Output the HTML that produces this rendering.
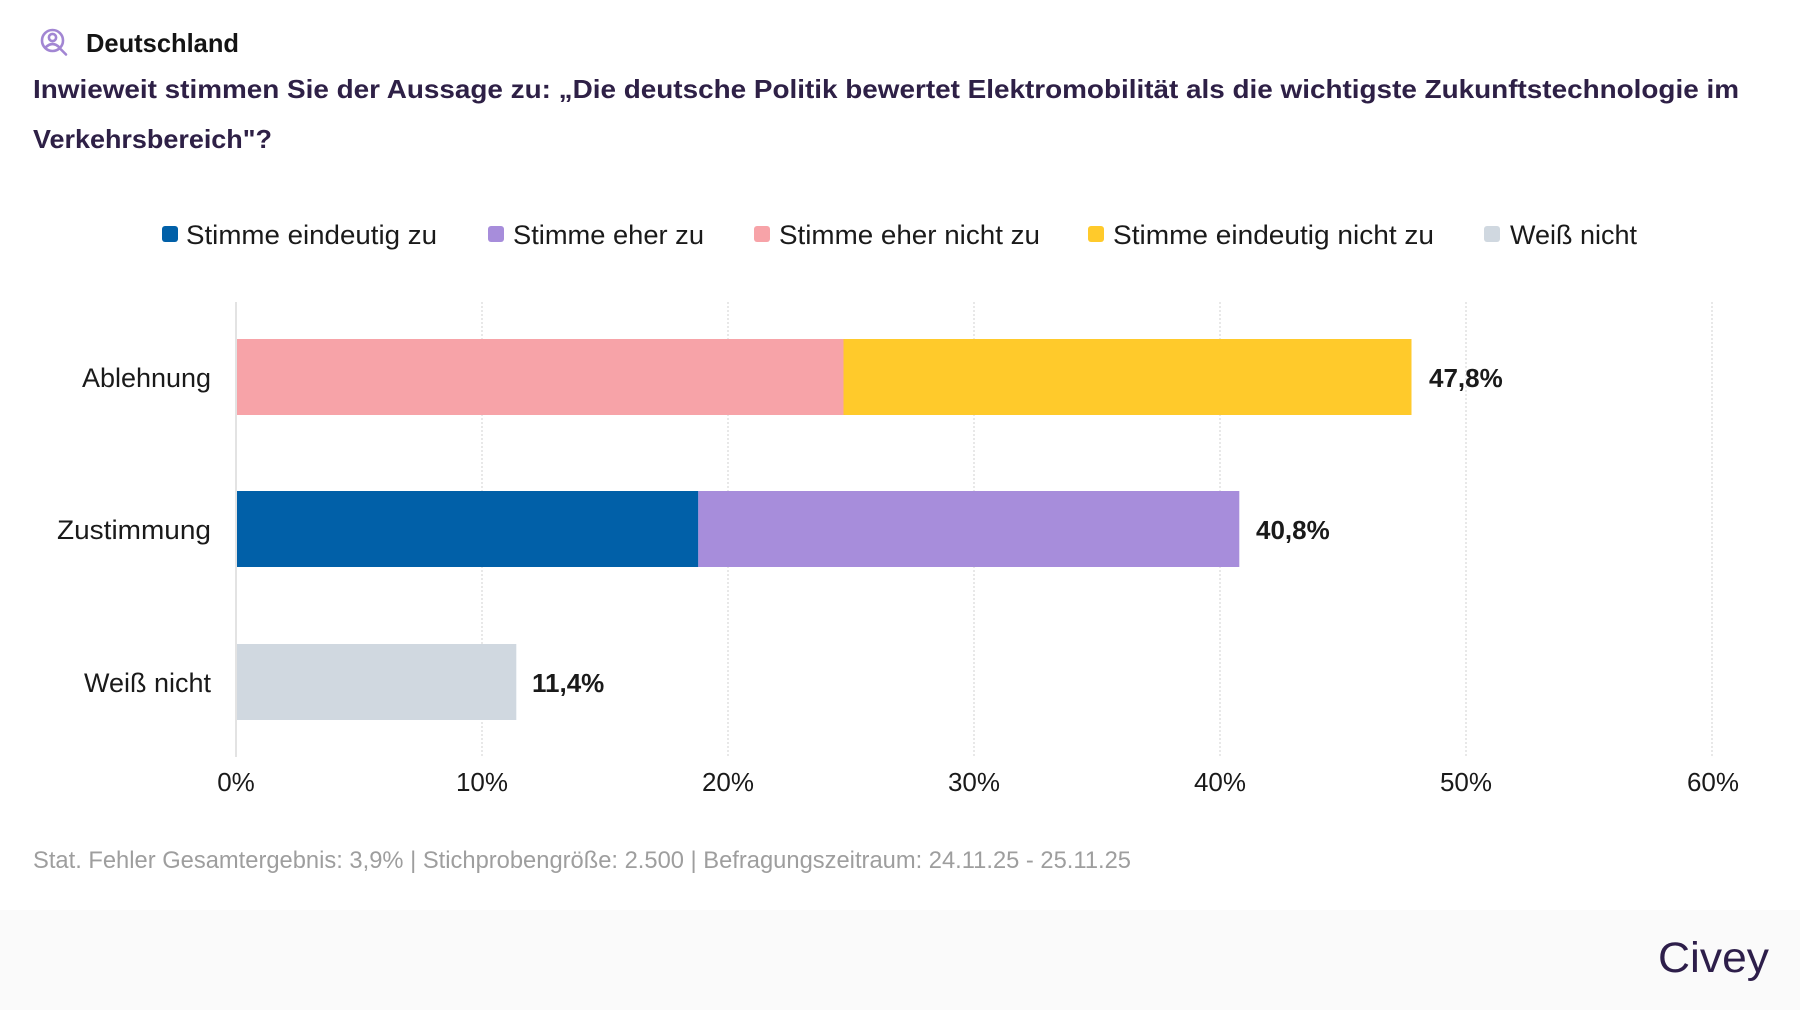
<!DOCTYPE html>
<html>
<head>
<meta charset="utf-8">
<style>
html,body{margin:0;padding:0;background:#fff;}
svg{display:block;}
text{font-family:"Liberation Sans",Arial,sans-serif;}
</style>
</head>
<body>
<svg width="1800" height="1010" viewBox="0 0 1800 1010" xmlns="http://www.w3.org/2000/svg">
  <rect x="0" y="0" width="1800" height="1010" fill="#ffffff"/>
  <!-- footer band -->
  <rect x="0" y="910" width="1800" height="100" fill="#fafafa"/>

  <!-- header icon -->
  <g fill="none" stroke="#a286d3" stroke-width="2.6" stroke-linecap="round">
    <circle cx="52.5" cy="40.5" r="10.5"/>
    <circle cx="52.5" cy="37.5" r="3.6"/>
    <path d="M45.5 47.5 Q52.5 40.5 59.5 47.5"/>
    <line x1="60" y1="48.5" x2="66" y2="54.5"/>
  </g>
  <text x="86" y="52" font-size="26" font-weight="bold" fill="#141414" textLength="153" lengthAdjust="spacingAndGlyphs">Deutschland</text>

  <!-- title -->
  <text x="33" y="98" font-size="26" font-weight="bold" fill="#2e2046" textLength="1706" lengthAdjust="spacingAndGlyphs">Inwieweit stimmen Sie der Aussage zu: „Die deutsche Politik bewertet Elektromobilität als die wichtigste Zukunftstechnologie im</text>
  <text x="33" y="148" font-size="26" font-weight="bold" fill="#2e2046" textLength="239" lengthAdjust="spacingAndGlyphs">Verkehrsbereich"?</text>

  <!-- legend -->
  <g font-size="27" fill="#1a1a1a">
    <rect x="162" y="226" width="16" height="16" rx="3" fill="#0160a8"/>
    <text x="186" y="244" textLength="251" lengthAdjust="spacingAndGlyphs">Stimme eindeutig zu</text>
    <rect x="488" y="226" width="16" height="16" rx="3" fill="#a78ddb"/>
    <text x="513" y="244" textLength="191" lengthAdjust="spacingAndGlyphs">Stimme eher zu</text>
    <rect x="754" y="226" width="16" height="16" rx="3" fill="#f7a3a8"/>
    <text x="779" y="244" textLength="261" lengthAdjust="spacingAndGlyphs">Stimme eher nicht zu</text>
    <rect x="1088" y="226" width="16" height="16" rx="3" fill="#ffca2b"/>
    <text x="1113" y="244" textLength="321" lengthAdjust="spacingAndGlyphs">Stimme eindeutig nicht zu</text>
    <rect x="1484" y="226" width="16" height="16" rx="3" fill="#d0d8e0"/>
    <text x="1510" y="244" textLength="127" lengthAdjust="spacingAndGlyphs">Weiß nicht</text>
  </g>

  <!-- gridlines -->
  <g stroke="#d9d9d9" stroke-width="1.2" stroke-dasharray="2 2">
    <line x1="482" y1="302" x2="482" y2="757"/>
    <line x1="728" y1="302" x2="728" y2="757"/>
    <line x1="974" y1="302" x2="974" y2="757"/>
    <line x1="1220" y1="302" x2="1220" y2="757"/>
    <line x1="1466" y1="302" x2="1466" y2="757"/>
    <line x1="1712" y1="302" x2="1712" y2="757"/>
  </g>

  <!-- bars -->
  <rect x="236" y="339" width="607.5" height="76" fill="#f7a3a8"/>
  <rect x="843.5" y="339" width="568" height="76" fill="#ffca2b"/>
  <rect x="236" y="491" width="462.3" height="76" fill="#0160a8"/>
  <rect x="698.3" y="491" width="541" height="76" fill="#a78ddb"/>
  <rect x="236" y="644" width="280.3" height="76" fill="#d0d8e0"/>

  <!-- axis line -->
  <line x1="236" y1="302" x2="236" y2="757" stroke="#e3e3e3" stroke-width="2"/>

  <!-- category labels -->
  <g font-size="27" fill="#1a1a1a">
    <text x="82" y="387" textLength="129" lengthAdjust="spacingAndGlyphs">Ablehnung</text>
    <text x="57" y="539" textLength="154" lengthAdjust="spacingAndGlyphs">Zustimmung</text>
    <text x="84" y="692" textLength="127" lengthAdjust="spacingAndGlyphs">Weiß nicht</text>
  </g>

  <!-- value labels -->
  <g font-size="26" font-weight="bold" fill="#1a1a1a">
    <text x="1429" y="387">47,8%</text>
    <text x="1256" y="539">40,8%</text>
    <text x="532" y="692">11,4%</text>
  </g>

  <!-- x tick labels -->
  <g font-size="26" fill="#1a1a1a" text-anchor="middle">
    <text x="236" y="791">0%</text>
    <text x="482" y="791">10%</text>
    <text x="728" y="791">20%</text>
    <text x="974" y="791">30%</text>
    <text x="1220" y="791">40%</text>
    <text x="1466" y="791">50%</text>
    <text x="1713" y="791">60%</text>
  </g>

  <!-- footnote -->
  <text x="33" y="868" font-size="24" fill="#9e9e9e" textLength="1098" lengthAdjust="spacingAndGlyphs">Stat. Fehler Gesamtergebnis: 3,9% | Stichprobengröße: 2.500 | Befragungszeitraum: 24.11.25 - 25.11.25</text>

  <!-- logo -->
  <text x="1658" y="972" font-size="43" fill="#2d1e4a" textLength="111" lengthAdjust="spacingAndGlyphs">Civey</text>
</svg>
</body>
</html>
